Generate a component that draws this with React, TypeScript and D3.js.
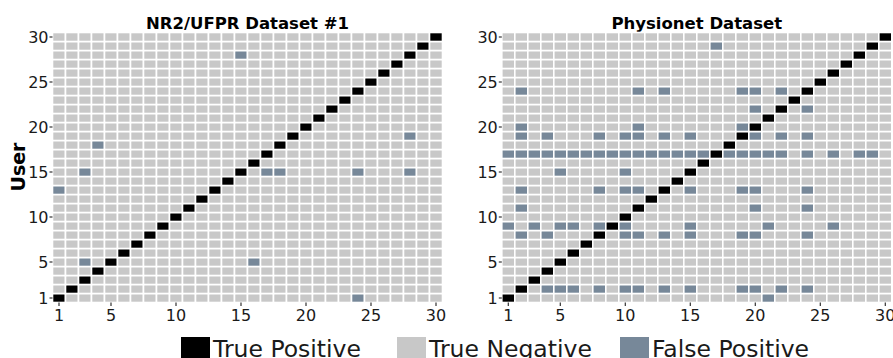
import React from 'react'
import * as d3 from 'd3'

const width = 893
const height = 358

// users on both axes
const users = [1, 2, 3, 4, 5, 6, 7, 8, 9, 10, 11, 12, 13, 14, 15, 16, 17, 18, 19, 20, 21, 22, 23, 24, 25, 26, 27, 28, 29, 30]
const tickValues = [1, 5, 10, 15, 20, 25, 30]

// false positives as [x, y]
const nr2FalsePositives = [
    [15, 28], [28, 19], [4, 18],
    [3, 15], [17, 15], [18, 15], [24, 15], [28, 15],
    [1, 13], [3, 5], [16, 5], [24, 1],
]

const physioRow29 = [17]
const physioRow24 = [2, 11, 13, 19, 20, 22]
const physioRow22 = [20, 24]
const physioRow20 = [2, 11, 19]
const physioRow19 = [2, 4, 8, 10, 11, 13, 15, 20, 22, 24]
const physioRow17 = [1, 2, 3, 4, 5, 6, 7, 8, 9, 10, 11, 12, 13, 14, 15, 16, 18, 19, 20, 21, 22, 24, 26, 28, 29]
const physioRow15 = [5, 10]
const physioRow13 = [2, 8, 10, 11, 15, 19, 20, 24]
const physioRow11 = [2, 20, 24]
const physioRow9 = [1, 3, 5, 6, 8, 10, 15, 21, 26]
const physioRow8 = [2, 4, 10, 11, 13, 15, 19, 20, 24]
const physioRow2 = [4, 5, 6, 8, 10, 11, 13, 15, 19, 20, 22, 24]
const physioRow1 = [21]

const physioRows: [number, number[]][] = [
    [29, physioRow29], [24, physioRow24], [22, physioRow22], [20, physioRow20],
    [19, physioRow19], [17, physioRow17], [15, physioRow15], [13, physioRow13],
    [11, physioRow11], [9, physioRow9], [8, physioRow8], [2, physioRow2], [1, physioRow1],
]
const physioFalsePositives = physioRows.flatMap(([y, xs]) => xs.map((x) => [x, y]))

const legendItems = ['True Positive', 'True Negative', 'False Positive']
const colors = { tp: '#000000', tn: '#c8c8c8', fp: '#778899' }
const legendColors = [colors.tp, colors.tn, colors.fp]

const font = 'DejaVu Sans, sans-serif'
const top = 32.5
const bottom = 302.5

const Panel = ({ title, left, fps }: { title: string; left: number; fps: number[][] }) => {
    const xScale = d3.scaleBand<number>().domain(users).range([left, left + 390])
    const yScale = d3.scaleBand<number>().domain(users.slice().reverse()).range([top, bottom])
    const fpSet = new Set(fps.map(([x, y]) => x + '-' + y))
    const cells: { x: number; y: number; fill: string }[] = []
    users.forEach((y) =>
        users.forEach((x) => {
            let fill = colors.tn
            if (x === y) fill = colors.tp
            else if (fpSet.has(x + '-' + y)) fill = colors.fp
            cells.push({ x, y, fill })
        })
    )
    const bw = xScale.bandwidth()
    const bh = yScale.bandwidth()
    return (
        <g>
            <text
                x={left + 195}
                y={29}
                textAnchor="middle"
                fontFamily={font}
                fontWeight="bold"
                fontSize={16.5}
            >
                {title}
            </text>
            {cells.map((c, i) => (
                <rect
                    key={i}
                    x={xScale(c.x)}
                    y={yScale(c.y)}
                    width={bw}
                    height={bh}
                    fill={c.fill}
                    stroke="#ffffff"
                    strokeWidth={1.6}
                />
            ))}
            {tickValues.map((t) => (
                <g key={'y' + t}>
                    <line
                        x1={left - 3}
                        x2={left}
                        y1={yScale(t)! + bh / 2}
                        y2={yScale(t)! + bh / 2}
                        stroke="#333"
                        strokeWidth={1.2}
                    />
                    <text
                        x={left - 4}
                        y={yScale(t)! + bh / 2}
                        dy="0.36em"
                        textAnchor="end"
                        fontFamily={font}
                        fontSize={16}
                        fill="#1a1a1a"
                    >
                        {t}
                    </text>
                </g>
            ))}
            {tickValues.map((t) => (
                <g key={'x' + t}>
                    <line
                        x1={xScale(t)! + bw / 2}
                        x2={xScale(t)! + bw / 2}
                        y1={bottom}
                        y2={bottom + 3.5}
                        stroke="#333"
                        strokeWidth={1.2}
                    />
                    <text
                        x={xScale(t)! + bw / 2}
                        y={321}
                        textAnchor="middle"
                        fontFamily={font}
                        fontSize={16}
                        fill="#1a1a1a"
                    >
                        {t}
                    </text>
                </g>
            ))}
        </g>
    )
}

const legendX = [181, 397, 620]

const App = () => {
    return (
        <svg
            width={width}
            height={height}
            style={{ position: 'absolute', left: 0, top: 0, background: '#fff' }}
        >
            <Panel title="NR2/UFPR Dataset #1" left={52.5} fps={nr2FalsePositives} />
            <Panel title="Physionet Dataset" left={501.8} fps={physioFalsePositives} />
            <text
                transform="translate(25,167) rotate(-90)"
                textAnchor="middle"
                fontFamily={font}
                fontWeight="bold"
                fontSize={19}
            >
                User
            </text>
            {legendItems.map((d, i) => (
                <g key={d} transform={`translate(${legendX[i]},337)`}>
                    <rect width={29} height={24} fill={legendColors[i]} />
                    <text x={32} y={20} fontFamily={font} fontSize={23.5} fill="#1a1a1a">
                        {d}
                    </text>
                </g>
            ))}
        </svg>
    )
}

export default App
